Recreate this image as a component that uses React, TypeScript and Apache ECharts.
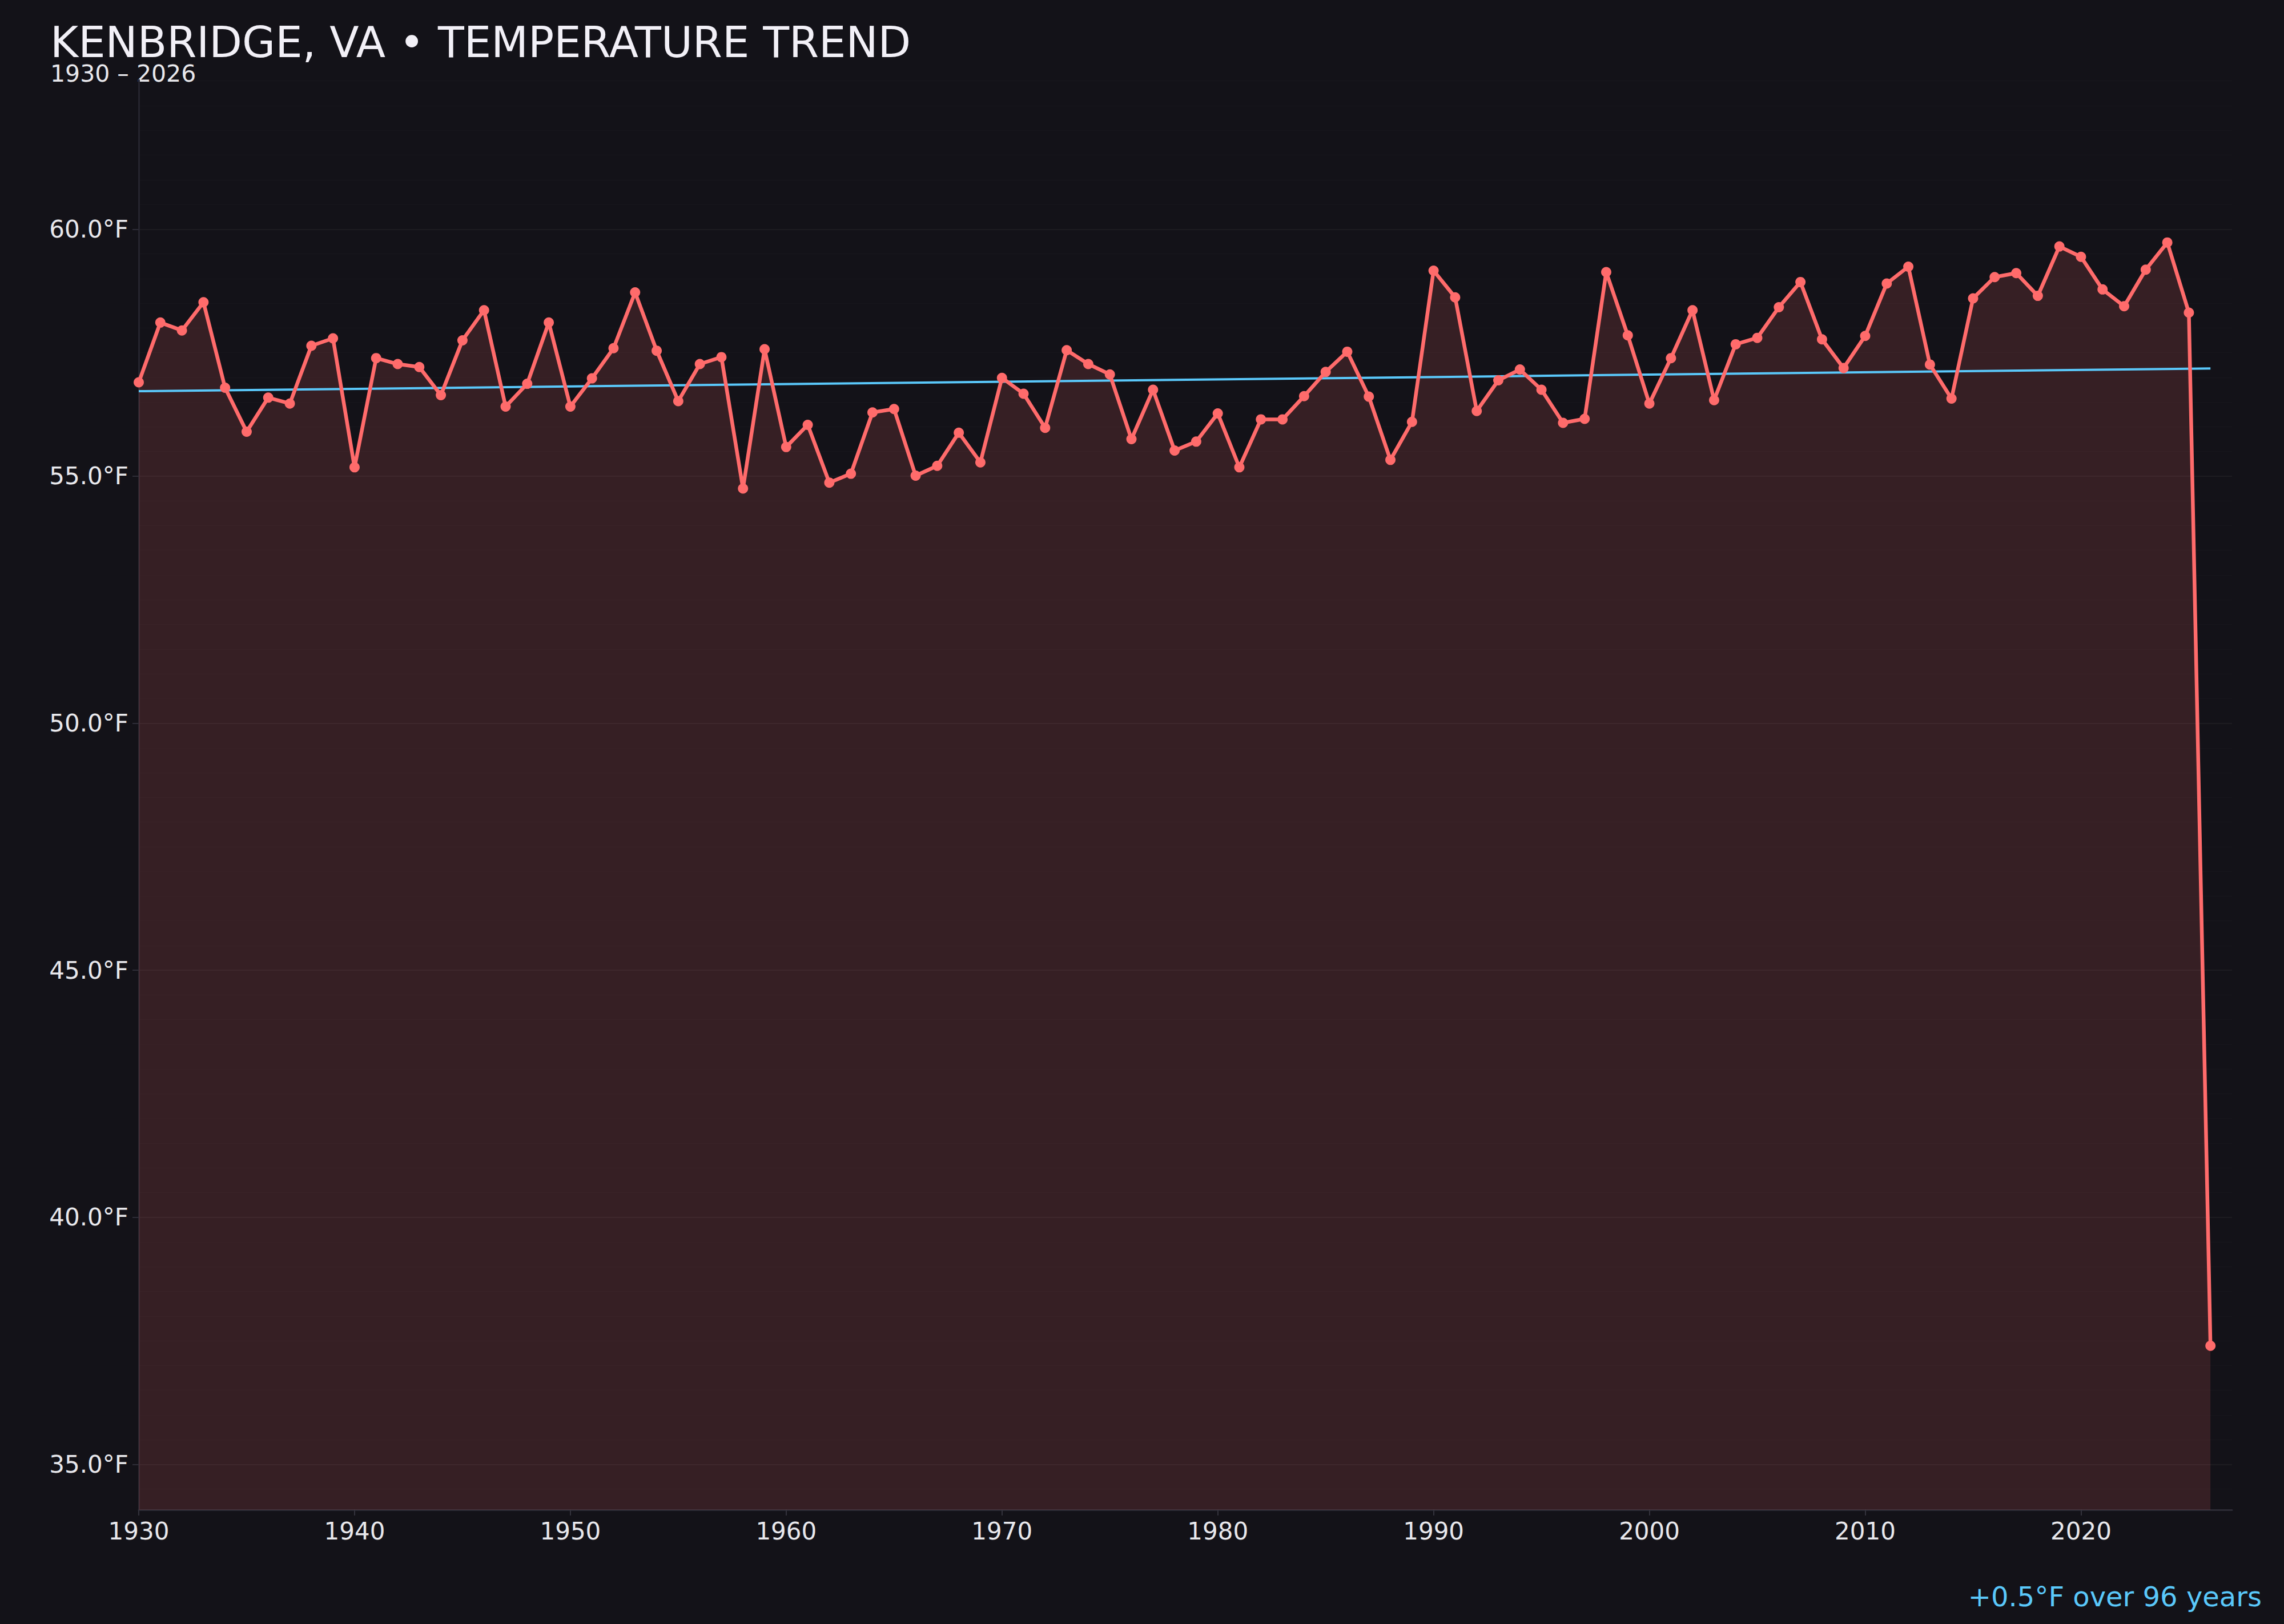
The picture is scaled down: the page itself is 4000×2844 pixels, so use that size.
import React, { useEffect, useRef } from 'react';
import * as echarts from 'echarts';

// annual mean temperature, Kenbridge VA, 1930..2026
const startYear = 1930;
const temps = [
  56.9, 58.11, 57.95, 58.52, 56.79, 55.9, 56.59, 56.47, 57.64, 57.79,
  55.18, 57.39, 57.27, 57.21, 56.64, 57.75, 58.36, 56.41, 56.87, 58.11,
  56.41, 56.98, 57.59, 58.72, 57.54, 56.52, 57.27, 57.41, 54.75, 57.57,
  55.59, 56.04, 54.87, 55.05, 56.29, 56.36, 55.01, 55.21, 55.88, 55.28,
  56.99, 56.67, 55.98, 57.55, 57.27, 57.06, 55.75, 56.75, 55.52, 55.7,
  56.27, 55.18, 56.15, 56.15, 56.62, 57.11, 57.52, 56.61, 55.33, 56.1,
  59.16, 58.62, 56.32, 56.94, 57.16, 56.75, 56.08, 56.16, 59.13, 57.85,
  56.47, 57.39, 58.36, 56.54, 57.67, 57.8, 58.42, 58.93, 57.77, 57.19,
  57.84, 58.9, 59.24, 57.26, 56.57, 58.6, 59.03, 59.11, 58.65, 59.65,
  59.44, 58.78, 58.44, 59.18, 59.73, 58.31, 37.4,
];

// linear trend end points
const trendYears = [1930, 2026];
const trendTemps = [56.72, 57.18];

const xTicks = [1930, 1940, 1950, 1960, 1970, 1980, 1990, 2000, 2010, 2020];
const yTicks = [35, 40, 45, 50, 55, 60];

const yMin = 34.08;
const yMax = 63.02;

const BG = '#131218';
const RED = '#ff6b6b';
const BLUE = '#5ac8fa';
const FONT = '"DejaVu Sans", sans-serif';

const App: React.FC = () => {
  const chartRef = useRef<HTMLDivElement>(null);

  useEffect(() => {
    if (!chartRef.current) return;
    const chart = echarts.init(chartRef.current, null, { renderer: 'svg' });

    const points = temps.map((v, i) => [startYear + i, v]);
    const trend = trendYears.map((y, i) => [y, trendTemps[i]]);

    // faint half-degree grid lines
    const minorLines: number[] = [];
    for (let v = 34.5; v <= 63; v += 0.5) {
      if (v % 5 !== 0) minorLines.push(v);
    }

    const option = {
      animation: false,
      backgroundColor: BG,
      textStyle: { fontFamily: FONT },
      grid: { left: 243, right: 91, top: 140, bottom: 200 },
      graphic: [
        {
          type: 'text',
          x: 88,
          y: 74,
          style: {
            text: 'KENBRIDGE, VA • TEMPERATURE TREND',
            fill: '#f2f0f7',
            font: `75px ${FONT}`,
            textVerticalAlign: 'middle',
          },
        },
        {
          type: 'text',
          x: 88,
          y: 129,
          style: {
            text: '1930 – 2026',
            fill: '#e8e8ec',
            font: `41px ${FONT}`,
            textVerticalAlign: 'middle',
          },
        },
        {
          type: 'text',
          x: 3961,
          y: 2796,
          style: {
            text: '+0.5°F over 96 years',
            fill: BLUE,
            font: `48px ${FONT}`,
            textAlign: 'right',
            textVerticalAlign: 'middle',
          },
        },
      ],
      xAxis: {
        type: 'value',
        min: 1930,
        max: 2027,
        axisLine: { show: true, lineStyle: { color: '#2c2b35', width: 3 } },
        axisTick: {
          show: true,
          length: 10,
          lineStyle: { color: '#33323c', width: 2 },
          customValues: xTicks,
        },
        axisLabel: {
          color: '#e8e8ec',
          fontSize: 42,
          margin: 16,
          customValues: xTicks,
          formatter: (v: number) => String(v),
        },
        splitLine: { show: false },
      },
      yAxis: [
        {
          type: 'value',
          min: yMin,
          max: yMax,
          axisLine: { show: true, lineStyle: { color: '#25242e', width: 3 } },
          axisTick: {
            show: true,
            length: 11,
            lineStyle: { color: '#2e2d37', width: 2 },
            customValues: yTicks,
          },
          axisLabel: {
            color: '#e8e8ec',
            fontSize: 42,
            margin: 18,
            customValues: yTicks,
            formatter: (v: number) => `${v.toFixed(1)}°F`,
          },
          splitLine: { show: true, lineStyle: { color: 'rgba(255,255,255,0.045)', width: 2 } },
        },
        {
          type: 'value',
          min: yMin,
          max: yMax,
          axisLine: { show: false },
          axisTick: { show: false, customValues: minorLines },
          axisLabel: { show: false },
          splitLine: { show: true, lineStyle: { color: 'rgba(255,255,255,0.02)', width: 1 } },
        },
      ],
      series: [
        {
          type: 'line',
          data: points,
          symbol: 'none',
          lineStyle: { width: 0 },
          areaStyle: { color: RED, opacity: 0.15 },
          silent: true,
          z: 1,
        },
        {
          type: 'line',
          data: trend,
          symbol: 'none',
          lineStyle: { color: BLUE, width: 4 },
          z: 2,
        },
        {
          type: 'line',
          data: points,
          symbol: 'circle',
          symbolSize: 18,
          showSymbol: true,
          itemStyle: { color: RED },
          lineStyle: { color: RED, width: 6.5 },
          z: 3,
        },
      ],
    };

    chart.setOption(option);
    return () => chart.dispose();
  }, []);

  return (
    <div
      ref={chartRef}
      style={{ position: 'fixed', left: 0, top: 0, width: '4000px', height: '2844px' }}
    />
  );
};

export default App;
